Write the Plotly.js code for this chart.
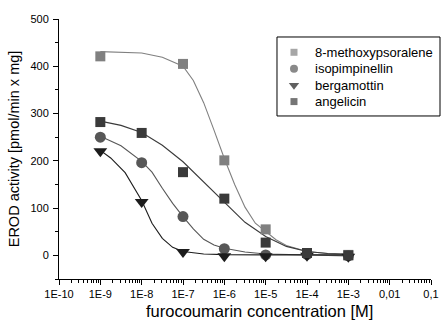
<!DOCTYPE html>
<html>
<head>
<meta charset="utf-8">
<script src="https://cdn.plot.ly/plotly-3.0.1.min.js"></script>
<style>html,body{margin:0;padding:0;background:#fff;}#chart{width:441px;height:320px;}</style>
</head>
<body>
<div id="chart"></div>
<script>
// Measured data points (concentration in M, EROD activity)
const seriesNames = ["8-methoxypsoralene", "isopimpinellin", "bergamottin", "angelicin"];
const conc = [1e-9, 1e-8, 1e-7, 1e-6, 1e-5, 1e-4, 1e-3];
const mopConc = [1e-9, 1e-7, 1e-6, 1e-5, 1e-4, 1e-3];
const mopValues = [421, 405, 201, 55, 5, 1];
const isoValues = [250, 196, 82, 14, 1, 2, -1];
const bergValues = [220, 113, 7, -2, -2, -1, -3];
const angValues = [282, 259, 176, 120, 27, 5, 0];

// Fitted curves (log10 of concentration, activity)
const mopCurveLog = [-9, -8.5, -8, -7.5, -7, -6.75, -6.5, -6.25, -6, -5.75, -5.5, -5.25, -5, -4.75, -4.5, -4, -3.5, -3];
const mopCurve = [431, 430, 428, 419, 400, 370, 323, 265, 205, 150, 102, 68, 50, 33, 21, 8, 4, 2];
const isoCurveLog = [-9, -8.5, -8, -7.75, -7.5, -7.25, -7, -6.75, -6.5, -6.25, -6, -5.5, -5, -4, -3];
const isoCurve = [252, 232, 199, 176, 142, 110, 82, 56, 34, 22, 15, 7, 3, 1, -1];
const bergCurveLog = [-9, -8.75, -8.4, -8.2, -8, -7.75, -7.5, -7.25, -7, -6.5, -6, -5, -3];
const bergCurve = [222, 206, 175, 145, 116, 68, 36, 17, 8, 3, 1.5, 1, 1];
const angCurveLog = [-9, -8.5, -8, -7.5, -7, -6.5, -6, -5.5, -5, -4.5, -4, -3.5, -3];
const angCurve = [284, 275, 260, 233, 198, 155, 112, 70, 40, 19, 8, 4, 2];

const xTickVals = [1e-10, 1e-9, 1e-8, 1e-7, 1e-6, 1e-5, 1e-4, 1e-3, 1e-2, 1e-1];
const xTickText = ["1E-10", "1E-9", "1E-8", "1E-7", "1E-6", "1E-5", "1E-4", "1E-3", "0,01", "0,1"];
const yTickVals = [0, 100, 200, 300, 400, 500];
const xTitle = "furocoumarin concentration [M]";
const yTitle = "EROD activity [pmol/min x mg]";

// Styles
const colors = ["#808080", "#575757", "#1c1c1c", "#3a3a3a"];
const symbols = ["square", "circle", "triangle-down", "square"];
const sizes = [10, 11, 12, 10];
const legendSizes = [7, 8, 9, 7];

const toX = arr => arr.map(e => Math.pow(10, e));
const curves = [[mopCurveLog, mopCurve], [isoCurveLog, isoCurve], [bergCurveLog, bergCurve], [angCurveLog, angCurve]];
const points = [[mopConc, mopValues], [conc, isoValues], [conc, bergValues], [conc, angValues]];

const traces = [];
curves.forEach((c, i) => {
  traces.push({x: toX(c[0]), y: c[1], mode: 'lines', line: {color: colors[i], width: 1.1}, showlegend: false, hoverinfo: 'skip'});
});
points.forEach((p, i) => {
  traces.push({x: p[0], y: p[1], mode: 'markers', name: seriesNames[i], showlegend: false,
    marker: {symbol: symbols[i], size: sizes[i], color: colors[i], line: {width: 0}}});
});

// Legend box (paper coordinates of the plot area)
const leg = {x0: 0.586, x1: 1.0242, y0: 0.627, y1: 0.9308, symX: 0.6317, textX: 0.6828, firstRow: 0.872, rowGap: 0.0632};
const rowY = seriesNames.map((_, i) => leg.firstRow - i * leg.rowGap);
traces.push({x: seriesNames.map(() => leg.symX), y: rowY, xaxis: 'x2', yaxis: 'y2', mode: 'markers',
  showlegend: false, hoverinfo: 'skip', cliponaxis: false,
  marker: {symbol: symbols, size: legendSizes, color: colors, line: {width: 0}}});

const font = "Liberation Sans, Arial, sans-serif";
const annotations = seriesNames.map((n, i) => ({
  xref: 'paper', yref: 'paper', x: leg.textX, y: rowY[i], xanchor: 'left', yanchor: 'middle',
  text: n, showarrow: false, font: {family: font, size: 13, color: '#000'}
}));
annotations.push({xref: 'paper', yref: 'paper', x: 0.54, y: -0.123, xanchor: 'center', yanchor: 'middle',
  text: xTitle, showarrow: false, font: {family: font, size: 16.5, color: '#000'}});

const layout = {
  width: 441, height: 320,
  margin: {l: 59, r: 10, t: 19, b: 41, pad: 0, autoexpand: false},
  paper_bgcolor: '#fff', plot_bgcolor: '#fff',
  font: {family: font, size: 11, color: '#000'},
  showlegend: false,
  shapes: [{type: 'rect', xref: 'paper', yref: 'paper', x0: leg.x0, x1: leg.x1, y0: leg.y0, y1: leg.y1,
    line: {color: '#000', width: 1}, fillcolor: '#fff', layer: 'below'}],
  annotations: annotations,
  xaxis: {
    type: 'log', range: [-10, -1], tickmode: 'array', tickvals: xTickVals, ticktext: xTickText,
    ticks: 'outside', ticklen: 5, tickwidth: 1, tickcolor: '#000',
    showline: true, linecolor: '#000', linewidth: 1, showgrid: false, zeroline: false, mirror: false,
    minor: {ticks: 'outside', ticklen: 2.5, tickwidth: 1, tickcolor: '#000', dtick: 'D1', showgrid: false},
    tickfont: {family: font, size: 11, color: '#000'}
  },
  yaxis: {
    range: [-50, 500], tickmode: 'array', tickvals: yTickVals,
    ticks: 'outside', ticklen: 5, tickwidth: 1, tickcolor: '#000',
    showline: true, linecolor: '#000', linewidth: 1, showgrid: false, zeroline: false,
    minor: {ticks: 'outside', ticklen: 3, tickwidth: 1, tickcolor: '#000', tick0: -50, dtick: 50, showgrid: false},
    tickfont: {family: font, size: 11, color: '#000'}, ticklabelstandoff: 2,
    title: {text: yTitle, font: {family: font, size: 14.5, color: '#000'}, standoff: 7}
  },
  xaxis2: {overlaying: 'x', range: [0, 1], visible: false, fixedrange: true},
  yaxis2: {overlaying: 'y', range: [0, 1], visible: false, fixedrange: true}
};

Plotly.newPlot('chart', traces, layout, {displayModeBar: false, staticPlot: true});
</script>
</body>
</html>
